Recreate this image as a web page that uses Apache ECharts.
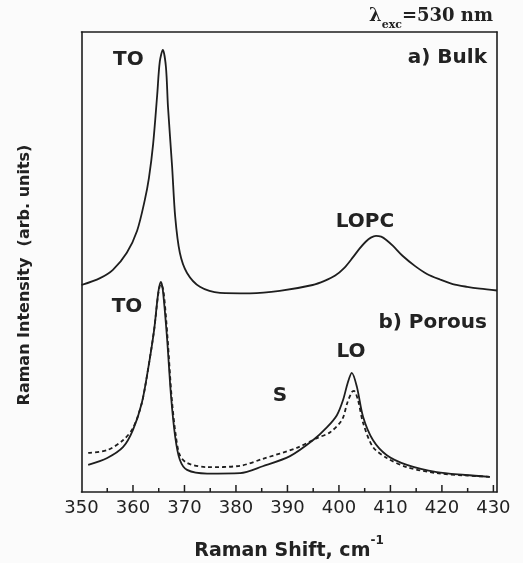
<!DOCTYPE html>
<html>
<head>
<meta charset="utf-8">
<script src="https://cdn.jsdelivr.net/npm/echarts@6/dist/echarts.min.js"></script>
<style>
html,body{margin:0;padding:0;background:#fbfbfb;}
#c{width:523px;height:563px;}
</style>
</head>
<body>
<div id="c"></div>
<script>
// Raman shift (cm-1) and intensity (arb. units)
var bulkShift = [350.0, 353.6, 356.1, 358.8, 360.8, 362.3, 363.1, 363.9, 364.7, 365.2, 365.8, 366.4, 366.8, 367.6, 368.2, 369.1, 370.5, 373.0, 376.9, 382.7, 388.5, 394.9, 397.2, 399.2, 401.1, 402.7, 404.0, 405.2, 406.2, 407.2, 408.2, 409.2, 410.5, 412.4, 414.8, 417.1, 419.6, 422.1, 424.9, 427.4, 430.7];
var bulkInt   = [45.0, 46.5, 48.3, 52.0, 56.8, 63.5, 68.3, 75.5, 86.3, 93.5, 96.1, 92.4, 83.7, 70.7, 59.8, 52.0, 47.6, 44.6, 43.3, 43.2, 43.7, 45.0, 45.9, 47.0, 48.8, 51.0, 52.9, 54.4, 55.3, 55.7, 55.5, 54.8, 53.5, 51.3, 49.1, 47.4, 46.2, 45.2, 44.6, 44.2, 43.8];

var porousShift = [351.3, 355.0, 358.1, 360.0, 361.7, 362.9, 364.1, 364.9, 365.4, 365.8, 366.6, 367.4, 368.2, 369.1, 370.5, 374.4, 380.8, 385.2, 390.5, 395.0, 397.7, 399.6, 400.8, 401.7, 402.5, 403.5, 404.7, 406.6, 409.3, 413.2, 419.0, 424.5, 429.3];
var porousInt   = [5.9, 7.4, 9.8, 13.5, 19.3, 26.5, 35.2, 43.3, 45.7, 43.9, 33.7, 20.7, 12.0, 7.0, 4.8, 4.0, 4.1, 5.6, 7.8, 11.3, 14.1, 16.7, 20.0, 23.7, 25.9, 22.8, 16.3, 11.3, 8.0, 5.9, 4.3, 3.7, 3.3];

var dashShift = [351.3, 355.0, 358.1, 360.0, 361.7, 362.9, 364.1, 364.9, 365.4, 365.9, 366.7, 367.5, 368.3, 369.1, 370.5, 374.4, 380.8, 385.2, 391.8, 395.7, 398.3, 400.6, 401.6, 402.5, 402.9, 403.7, 404.7, 406.6, 409.3, 413.2, 419.0, 424.5, 429.3];
var dashInt   = [8.5, 9.1, 11.3, 13.9, 19.3, 26.5, 35.2, 43.0, 45.2, 43.9, 33.7, 20.7, 12.4, 8.0, 6.3, 5.4, 5.7, 7.2, 9.6, 11.7, 13.0, 15.7, 19.3, 21.7, 22.0, 20.0, 15.0, 9.8, 7.4, 5.4, 4.1, 3.6, 3.3];

// tick positions along the Raman-shift axis
var majorTicks = [360, 370, 380, 390, 400, 410, 420, 430];
var minorTicks = [355, 365, 375, 385, 395, 405, 415, 425];

var xMin = 350, xMax = 430.7, xStep = 10;
var yMin = 0, yMax = 100;

function pairs(xs, ys){ return xs.map(function(x,i){ return [x, ys[i]]; }); }

var ink = '#1e1e1e';
var chart = echarts.init(document.getElementById('c'), null, {renderer:'canvas'});
function tickLabel(v){ return (Math.abs(v/10 - Math.round(v/10)) < 1e-6) ? String(Math.round(v)) : ''; }

function tickSeries(values, len){
  return {
    type: 'custom', xAxisIndex: 0, yAxisIndex: 0, silent: true, clip: false,
    data: values.map(function(v){ return [v, yMin]; }),
    renderItem: function(params, api){
      var p = api.coord([api.value(0), api.value(1)]);
      return {type: 'line', shape: {x1: p[0], y1: p[1], x2: p[0], y2: p[1] - len},
              style: {stroke: ink, lineWidth: 1.5}};
    }
  };
}

chart.setOption({
  animation: false,
  backgroundColor: '#fbfbfb',
  grid: {left: 81.5, right: 26, top: 32, bottom: 71, show: false},
  xAxis: [{
    type: 'value', min: xMin, max: xMax, interval: xStep, position: 'bottom',
    axisLine: {show: true, onZero: false, lineStyle: {color: ink, width: 1.6}},
    axisTick: {show: false},
    splitLine: {show: false},
    axisLabel: {margin: 7, color: '#222', fontSize: 18, fontFamily: '"DejaVu Sans", sans-serif', formatter: tickLabel}
  }, {
    type: 'value', min: xMin, max: xMax, interval: xStep, position: 'top',
    axisLine: {show: true, onZero: false, lineStyle: {color: ink, width: 1.6}},
    axisTick: {show: false}, splitLine: {show: false}, axisLabel: {show: false}
  }],
  yAxis: [{
    type: 'value', min: yMin, max: yMax, position: 'left',
    axisLine: {show: true, onZero: false, lineStyle: {color: ink, width: 1.6}},
    axisTick: {show: false}, axisLabel: {show: false}, splitLine: {show: false}
  }, {
    type: 'value', min: yMin, max: yMax, position: 'right',
    axisLine: {show: true, onZero: false, lineStyle: {color: ink, width: 1.6}},
    axisTick: {show: false}, axisLabel: {show: false}, splitLine: {show: false}
  }],
  series: [
    {type: 'line', xAxisIndex: 0, yAxisIndex: 0, data: pairs(bulkShift, bulkInt), showSymbol: false, smooth: 0.3,
     lineStyle: {color: ink, width: 1.8}},
    {type: 'line', xAxisIndex: 0, yAxisIndex: 0, data: pairs(dashShift, dashInt), showSymbol: false, smooth: 0.3,
     lineStyle: {color: ink, width: 1.8, type: [4, 3]}},
    {type: 'line', xAxisIndex: 0, yAxisIndex: 0, data: pairs(porousShift, porousInt), showSymbol: false, smooth: 0.3,
     lineStyle: {color: ink, width: 1.8}},
    tickSeries(majorTicks, 7),
    tickSeries(minorTicks, 4)
  ],
  graphic: [
    {type: 'text', left: 113, top: 50, style: {text: 'TO', font: 'bold 20px "DejaVu Sans"', fill: '#222'}},
    {type: 'text', x: 487, y: 58, style: {text: 'a) Bulk', font: 'bold 20px "DejaVu Sans"', fill: '#222', align: 'right', verticalAlign: 'middle'}},
    {type: 'text', x: 365, y: 222, style: {text: 'LOPC', font: 'bold 20px "DejaVu Sans"', fill: '#222', align: 'center', verticalAlign: 'middle'}},
    {type: 'text', x: 127, y: 307, style: {text: 'TO', font: 'bold 20px "DejaVu Sans"', fill: '#222', align: 'center', verticalAlign: 'middle'}},
    {type: 'text', x: 487, y: 323, style: {text: 'b) Porous', font: 'bold 20px "DejaVu Sans"', fill: '#222', align: 'right', verticalAlign: 'middle'}},
    {type: 'text', x: 351, y: 352, style: {text: 'LO', font: 'bold 20px "DejaVu Sans"', fill: '#222', align: 'center', verticalAlign: 'middle'}},
    {type: 'text', x: 280, y: 396, style: {text: 'S', font: 'bold 20px "DejaVu Sans"', fill: '#222', align: 'center', verticalAlign: 'middle'}},
    {type: 'text', x: 25, y: 275, rotation: Math.PI/2,
     style: {text: 'Raman Intensity  (arb. units)', font: 'bold 16px "DejaVu Sans"', fill: '#222', align: 'center', verticalAlign: 'middle'}},
    {type: 'text', x: 289, y: 548,
     style: {text: '{m|Raman Shift, cm}{s|-1}', fill: '#222', align: 'center', verticalAlign: 'middle',
       rich: {m: {font: 'bold 19px "DejaVu Sans"', fill: '#222', lineHeight: 26, verticalAlign: 'bottom'},
              s: {font: 'bold 12px "DejaVu Sans"', fill: '#222', lineHeight: 14, verticalAlign: 'top'}}}},
    {type: 'text', x: 493, y: 19,
     style: {text: '{l|λ}{sub|exc}{l|=530 nm}', fill: '#222', align: 'right', verticalAlign: 'middle',
       rich: {l: {font: 'bold 18px "DejaVu Serif"', fill: '#222', lineHeight: 24, verticalAlign: 'top'},
              sub: {font: 'bold 11px "DejaVu Serif"', fill: '#222', lineHeight: 13, verticalAlign: 'bottom'}}}}
  ]
});
</script>
</body>
</html>
